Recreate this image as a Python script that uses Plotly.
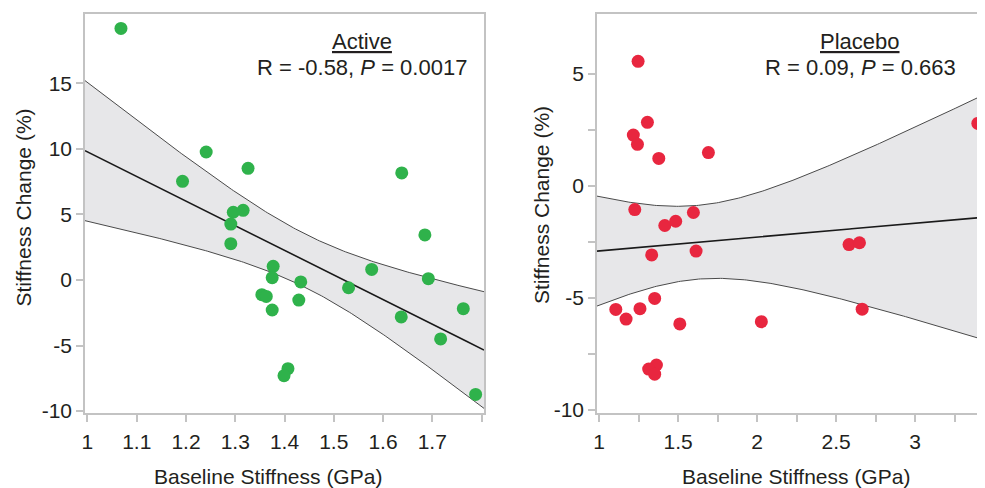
import numpy as np
import plotly.graph_objects as go

# ---------------- data ----------------
active_baseline = [1.068, 1.241, 1.193, 1.326, 1.638, 1.296, 1.316, 1.291, 1.291,
                   1.685, 1.377, 1.375, 1.577, 1.692, 1.433, 1.530, 1.354, 1.363,
                   1.429, 1.375, 1.763, 1.637, 1.717, 1.407, 1.399, 1.788]
active_change = [19.2, 9.77, 7.53, 8.52, 8.17, 5.17, 5.32, 4.27, 2.77,
                 3.44, 1.04, 0.18, 0.81, 0.10, -0.15, -0.59, -1.12, -1.25,
                 -1.53, -2.29, -2.19, -2.82, -4.50, -6.77, -7.30, -8.73]

placebo_baseline = [1.247, 1.306, 1.217, 1.243, 1.378, 1.692, 3.397, 1.226, 1.597,
                    1.485, 1.416, 1.333, 1.614, 2.582, 2.648, 1.352, 1.106, 1.259,
                    2.665, 1.171, 1.511, 2.027, 1.363, 1.314, 1.352]
placebo_change = [5.55, 2.83, 2.26, 1.85, 1.22, 1.48, 2.78, -1.06, -1.19,
                  -1.58, -1.77, -3.08, -2.91, -2.62, -2.54, -5.02, -5.51, -5.48,
                  -5.50, -5.94, -6.16, -6.06, -7.99, -8.17, -8.40]

active_title = "Active"
placebo_title = "Placebo"
active_label = "R = -0.58, <i>P</i> = 0.0017"
placebo_label = "R = 0.09, <i>P</i> = 0.663"
x_title = "Baseline Stiffness (GPa)"
y_title = "Stiffness Change (%)"

# two-sided 95% t critical values, df = n - 2
T_CRIT_ACTIVE = 2.0639   # df = 24
T_CRIT_PLACEBO = 2.0687  # df = 23

active_xticks = [1.0, 1.1, 1.2, 1.3, 1.4, 1.5, 1.6, 1.7, 1.8]
active_xtext = ["1", "1.1", "1.2", "1.3", "1.4", "1.5", "1.6", "1.7", ""]
active_yticks = [-10, -5, 0, 5, 10, 15]
active_ytext = ["-10", "-5", "0", "5", "10", "15"]

placebo_xticks = [1.0, 1.25, 1.5, 1.75, 2.0, 2.25, 2.5, 2.75, 3.0, 3.25]
placebo_xtext = ["1", "", "1.5", "", "2", "", "2.5", "", "3", ""]
placebo_yticks = [-10, -7.5, -5, -2.5, 0, 2.5, 5]
placebo_ytext = ["-10", "", "-5", "", "0", "", "5"]

ACTIVE_XRANGE = [0.995, 1.805]
ACTIVE_YRANGE = [-10.15, 20.3]
PLACEBO_XRANGE = [0.987, 3.493]
PLACEBO_YRANGE = [-10.13, 7.66]

GREEN = "#2fb24b"
RED = "#e8263f"
BAND = "#e7e7e9"
FRAME = "#c3c3c3"
TEXT = "#231f20"
FONT = "Liberation Sans, Arial, sans-serif"


def fit_with_ci(x, y, tcrit, xr):
    x = np.asarray(x, float)
    y = np.asarray(y, float)
    n = len(x)
    slope, intercept = np.polyfit(x, y, 1)
    resid = y - (slope * x + intercept)
    s = np.sqrt(np.sum(resid ** 2) / (n - 2))
    xm = x.mean()
    sxx = np.sum((x - xm) ** 2)
    grid = np.linspace(xr[0], xr[1], 200)
    yhat = slope * grid + intercept
    half = tcrit * s * np.sqrt(1.0 / n + (grid - xm) ** 2 / sxx)
    return grid, yhat, yhat - half, yhat + half


fig = go.Figure()


def add_panel(x, y, color, tcrit, xr, xa, ya):
    grid, yhat, lo, hi = fit_with_ci(x, y, tcrit, xr)
    fig.add_trace(go.Scatter(x=grid, y=lo, mode="lines",
                             line=dict(color="#4a4a4a", width=1),
                             xaxis=xa, yaxis=ya, showlegend=False, hoverinfo="skip"))
    fig.add_trace(go.Scatter(x=grid, y=hi, mode="lines", fill="tonexty",
                             fillcolor=BAND,
                             line=dict(color="#4a4a4a", width=1),
                             xaxis=xa, yaxis=ya, showlegend=False, hoverinfo="skip"))
    fig.add_trace(go.Scatter(x=grid, y=yhat, mode="lines",
                             line=dict(color="#1a1a1a", width=1.6),
                             xaxis=xa, yaxis=ya, showlegend=False, hoverinfo="skip"))
    fig.add_trace(go.Scatter(x=x, y=y, mode="markers",
                             marker=dict(color=color, size=13, line=dict(width=0)),
                             xaxis=xa, yaxis=ya, showlegend=False))


add_panel(active_baseline, active_change, GREEN, T_CRIT_ACTIVE, ACTIVE_XRANGE, "x", "y")
add_panel(placebo_baseline, placebo_change, RED, T_CRIT_PLACEBO, PLACEBO_XRANGE, "x2", "y2")

# the page body adds an 8px offset; layout positions below are in figure pixels
W, H = 985, 488
ydom = [1 - 405 / H, 1 - 6 / H]

axis_common = dict(showline=True, mirror=True, linecolor=FRAME, linewidth=1.5,
                   ticks="outside", tickcolor=FRAME, tickwidth=1.5,
                   showgrid=False, zeroline=False, automargin=False,
                   tickfont=dict(family=FONT, size=21, color=TEXT))

fig.update_layout(
    width=W, height=H,
    margin=dict(l=0, r=0, t=0, b=0),
    paper_bgcolor="white", plot_bgcolor="white",
    font=dict(family=FONT, color=TEXT),
    xaxis=dict(axis_common, domain=[77 / W, 476 / W], range=ACTIVE_XRANGE,
               tickmode="array", tickvals=active_xticks, ticktext=active_xtext,
               ticklen=7, ticklabelstandoff=2, anchor="y"),
    yaxis=dict(axis_common, domain=ydom, range=ACTIVE_YRANGE,
               tickmode="array", tickvals=active_yticks, ticktext=active_ytext,
               ticklen=7, anchor="x"),
    xaxis2=dict(axis_common, domain=[589 / W, 1.0], range=PLACEBO_XRANGE,
                tickmode="array", tickvals=placebo_xticks, ticktext=placebo_xtext,
                ticklen=7, ticklabelstandoff=2, anchor="y2"),
    yaxis2=dict(axis_common, domain=ydom, range=PLACEBO_YRANGE,
                tickmode="array", tickvals=placebo_yticks, ticktext=placebo_ytext,
                ticklen=7, anchor="x2"),
)

title_font = dict(family=FONT, size=21, color=TEXT)
# axis titles
for cx, cy in [(259.5, 468), (787.5, 468)]:
    fig.add_annotation(x=cx / W, y=1 - cy / H, xref="paper", yref="paper",
                       text=x_title, showarrow=False, xanchor="center",
                       yanchor="middle", font=title_font)
for cx, cy in [(15, 199.5), (533, 197)]:
    fig.add_annotation(x=cx / W, y=1 - cy / H, xref="paper", yref="paper",
                       text=y_title, showarrow=False, textangle=-90,
                       xanchor="center", yanchor="middle", font=title_font)

ann_font = dict(family=FONT, size=22, color=TEXT)
for cx, title, label in [(354, active_title, active_label),
                         (852, placebo_title, placebo_label)]:
    fig.add_annotation(x=cx / W, y=1 - 33.5 / H, xref="paper", yref="paper",
                       text="<u>" + title + "</u>", showarrow=False,
                       xanchor="center", yanchor="middle", font=ann_font)
    fig.add_annotation(x=cx / W, y=1 - 59.5 / H, xref="paper", yref="paper",
                       text=label, showarrow=False,
                       xanchor="center", yanchor="middle", font=ann_font)

fig.write_html("out.html")
